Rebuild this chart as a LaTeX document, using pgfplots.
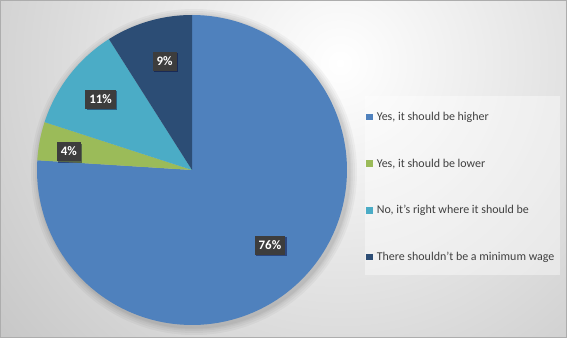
\documentclass[border=0pt]{standalone}
\usepackage{pgfplots}
\pgfplotsset{compat=1.18}
\usepackage{fontspec}
\setmainfont{Carlito}
\usetikzlibrary{shadows}
\definecolor{cA}{HTML}{4F81BD}
\definecolor{cB}{HTML}{9BBB59}
\definecolor{cC}{HTML}{4BACC6}
\definecolor{cD}{HTML}{2C4D75}
\definecolor{lblfill}{HTML}{3D3D3D}
\definecolor{legtext}{HTML}{404040}
\tikzset{lbl/.style={fill=lblfill, text=white, font=\bfseries\fontsize{13}{15}\selectfont,
    inner xsep=4bp, inner ysep=3bp, minimum height=19bp,
    drop shadow={shadow xshift=1.5bp, shadow yshift=-1.5bp, opacity=0.45, fill=black!80!blue}}}
% data (percent)
\def\vA{76}
\def\vB{4}
\def\vC{11}
\def\vD{9}
\begin{document}
\begin{tikzpicture}
\useasboundingbox (0,0) rectangle (567bp,338bp);
\begin{scope}
\clip (0,0) rectangle (567bp,338bp);
\shade[inner color=white, outer color=black!27] (340bp,275bp) circle (540bp);
\end{scope}
\draw[black!32, line width=1bp] (0.5bp,0.5bp) rectangle (566.5bp,337.5bp);
% soft shadow around pie
\foreach \r in {163,161,159,157.5,156.5} {\fill[black, opacity=0.035] (194bp,166bp) circle (\r bp);}
% legend background
\fill[white, opacity=0.4] (365bp,63bp) rectangle (560bp,242bp);
\pgfmathsetmacro{\aA}{90}
\pgfmathsetmacro{\aB}{\aA-3.6*\vA}
\pgfmathsetmacro{\aC}{\aB-3.6*\vB}
\pgfmathsetmacro{\aD}{\aC-3.6*\vC}
\pgfmathsetmacro{\aE}{\aD-3.6*\vD}
\begin{axis}[
  at={(192bp,168bp)}, anchor=center,
  x=155bp, y=155bp,
  xmin=-1, xmax=1, ymin=-1, ymax=1,
  hide axis, clip=false,
  legend image code/.code={\fill[#1] (0bp,-3.3bp) rectangle (6.6bp,3.3bp);},
  legend style={at={(1.058,0.739)}, anchor=north west, fill=none, draw=none,
    font=\fontsize{12}{14}\selectfont, text=legtext,
    row sep=34.8bp, inner xsep=1bp, inner ysep=15bp,
    nodes={inner sep=1bp}, column sep=3bp},
  legend cell align=left,
]
\addplot[fill=cA, draw=none, domain=\aB:\aA, samples=120] ({cos(x)},{sin(x)}) -- (axis cs:0,0) -- cycle;
\addlegendentry{Yes, it should be higher}
\addplot[fill=cB, draw=none, domain=\aC:\aB, samples=20] ({cos(x)},{sin(x)}) -- (axis cs:0,0) -- cycle;
\addlegendentry{Yes, it should be lower}
\addplot[fill=cC, draw=none, domain=\aD:\aC, samples=30] ({cos(x)},{sin(x)}) -- (axis cs:0,0) -- cycle;
\addlegendentry{No, it's right where it should be}
\addplot[fill=cD, draw=none, domain=\aE:\aD, samples=30] ({cos(x)},{sin(x)}) -- (axis cs:0,0) -- cycle;
\addlegendentry{There shouldn't be a minimum wage}
\node[lbl] at (axis cs:0.503,-0.484) {76\%};
\node[lbl] at (axis cs:-0.794,0.119) {4\%};
\node[lbl] at (axis cs:-0.590,0.458) {11\%};
\node[lbl] at (axis cs:-0.177,0.703) {9\%};
\end{axis}
\end{tikzpicture}
\end{document}
